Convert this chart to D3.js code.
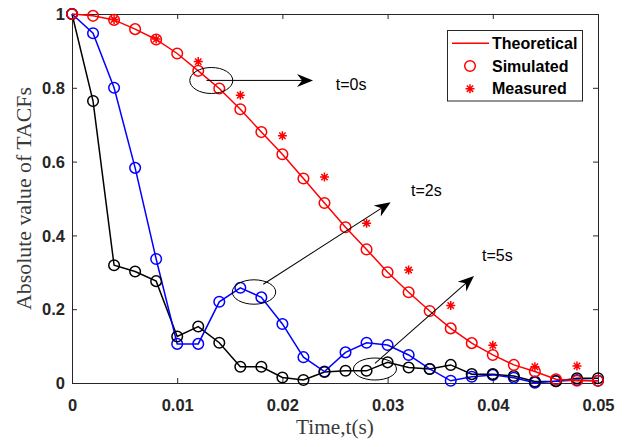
<!DOCTYPE html>
<html>
<head>
<meta charset="utf-8">
<script src="https://cdn.jsdelivr.net/npm/d3@7"></script>
<style>
body{margin:0;background:#fff;}
svg{display:block;}
</style>
</head>
<body>
<svg id="chart" width="626" height="447"></svg>
<script>
// ---------- data ----------
const timeValues = [0,0.002,0.004,0.006,0.008,0.010,0.012,0.014,0.016,0.018,0.020,0.022,0.024,0.026,0.028,0.030,0.032,0.034,0.036,0.038,0.040,0.042,0.044,0.046,0.048,0.050];
const theoretical = [1,0.995,0.984,0.959,0.931,0.893,0.846,0.798,0.742,0.680,0.620,0.554,0.488,0.422,0.362,0.300,0.246,0.195,0.148,0.108,0.076,0.049,0.031,0.010,0.006,0.006];
const simulated0s = [1,0.995,0.984,0.959,0.931,0.893,0.846,0.798,0.742,0.680,0.620,0.554,0.488,0.422,0.362,0.300,0.246,0.195,0.148,0.108,0.076,0.049,0.031,0.010,0.006,0.006];
const measuredTime = [0.004,0.008,0.012,0.016,0.020,0.024,0.028,0.032,0.036,0.040,0.044,0.048];
const measured0s = [0.985,0.932,0.871,0.780,0.670,0.558,0.433,0.306,0.210,0.102,0.044,0.046];
const simulated2s = [1,0.948,0.800,0.583,0.336,0.106,0.106,0.220,0.258,0.232,0.160,0.070,0.031,0.083,0.109,0.103,0.076,0.038,0.006,0.017,0.022,0.014,0.001,0.005,0.008,0.006];
const simulated5s = [1,0.764,0.319,0.302,0.276,0.126,0.153,0.109,0.044,0.044,0.015,0.008,0.030,0.033,0.033,0.056,0.042,0.038,0.049,0.024,0.024,0.019,0.004,0.005,0.013,0.013];
const xTickValues = [0,0.01,0.02,0.03,0.04,0.05];
const xTickLabels = ["0","0.01","0.02","0.03","0.04","0.05"];
const yTickValues = [0,0.2,0.4,0.6,0.8,1];
const yTickLabels = ["0","0.2","0.4","0.6","0.8","1"];
const legendLabels = ["Theoretical","Simulated","Measured"];
const annotationLabels = ["t=0s","t=2s","t=5s"];
// ellipse centers, arrow start/end and label anchors in data units
const ellipseCenters = [[0.01324,0.8198],[0.0173,0.2466],[0.0288,0.0379]];
const arrowStarts = [[0.01278,0.820],[0.01818,0.2675],[0.0288,0.0534]];
const arrowEnds = [[0.02291,0.820],[0.03029,0.4897],[0.03821,0.290]];
const labelAnchors = [[0.02507,0.8095],[0.03222,0.523],[0.03897,0.345]];

// ---------- layout ----------
const svg = d3.select("#chart");
const L = 72, R = 598, T = 14, B = 383;
const x = d3.scaleLinear().domain([0,0.05]).range([L,R]);
const y = d3.scaleLinear().domain([0,1]).range([B,T]);
const axisColor = "#262626";
const tickFont = '"Liberation Sans", Arial, Helvetica, sans-serif';

// axes
const gx = svg.append("g").attr("transform",`translate(0,${B})`)
  .call(d3.axisBottom(x).tickValues(xTickValues).tickFormat((d,i)=>xTickLabels[i]).tickSizeInner(-5).tickSizeOuter(0).tickPadding(16));
const gxTop = svg.append("g").attr("transform",`translate(0,${T})`)
  .call(d3.axisTop(x).tickValues(xTickValues).tickFormat("").tickSizeInner(-5).tickSizeOuter(0));
const gy = svg.append("g").attr("transform",`translate(${L},0)`)
  .call(d3.axisLeft(y).tickValues(yTickValues).tickFormat((d,i)=>yTickLabels[i]).tickSizeInner(-5).tickSizeOuter(0).tickPadding(7));
const gyR = svg.append("g").attr("transform",`translate(${R},0)`)
  .call(d3.axisRight(y).tickValues(yTickValues).tickFormat("").tickSizeInner(-5).tickSizeOuter(0));
[gx,gxTop,gy,gyR].forEach(g=>{
  g.select(".domain").attr("stroke",axisColor).attr("stroke-width",1);
  g.selectAll(".tick line").attr("stroke",axisColor).attr("stroke-width",1);
  g.selectAll(".tick text").attr("fill",axisColor).attr("font-family",tickFont)
   .attr("font-weight","bold").attr("font-size","16.5px");
});
gx.selectAll(".tick text").attr("dy","0.71em");
gy.selectAll(".tick text").attr("dy","0.34em");

// axis labels
const serif = '"Liberation Serif", "Times New Roman", serif';
const labelColor = "#3a3a3a";
const xl = svg.append("text").attr("x",(L+R)/2).attr("y",434).attr("text-anchor","middle")
  .attr("font-family",serif).attr("font-size","17px").attr("fill",labelColor).text("Time,t(s)");
xl.attr("font-size", (17*78/xl.node().getComputedTextLength())+"px");
const yl = svg.append("text").attr("transform",`translate(31,${(T+B)/2}) rotate(-90)`).attr("text-anchor","middle")
  .attr("font-family",serif).attr("font-size","17px").attr("fill",labelColor).text("Absolute value of TACFs");
yl.attr("font-size", (17*223/yl.node().getComputedTextLength())+"px");

// ---------- series ----------
const plot = svg.append("g");
const line = d3.line().x((d,i)=>x(timeValues[i])).y(d=>y(d));
function starPath(cx,cy,s){
  const a=s, b=s*0.7071;
  return `M${cx-a},${cy}L${cx+a},${cy}M${cx},${cy-a}L${cx},${cy+a}M${cx-b},${cy-b}L${cx+b},${cy+b}M${cx-b},${cy+b}L${cx+b},${cy-b}`;
}
function drawMarkers(vals,color){
  plot.append("g").selectAll("circle").data(vals).join("circle")
    .attr("cx",(d,i)=>x(timeValues[i])).attr("cy",d=>y(d)).attr("r",5.3)
    .attr("fill","none").attr("stroke",color).attr("stroke-width",1.5);
}
// black t=5s and blue t=2s
plot.append("path").attr("d",line(simulated5s)).attr("fill","none").attr("stroke","#000").attr("stroke-width",1.5);
plot.append("path").attr("d",line(simulated2s)).attr("fill","none").attr("stroke","#0000ff").attr("stroke-width",1.5);
drawMarkers(simulated2s,"#0000ff");
drawMarkers(simulated5s,"#000000");
// red theoretical + simulated + measured
plot.append("path").attr("d",line(theoretical)).attr("fill","none").attr("stroke","#ff0000").attr("stroke-width",1.5);
drawMarkers(simulated0s,"#ff0000");
plot.append("g").selectAll("path").data(measured0s).join("path")
  .attr("d",(d,i)=>starPath(x(measuredTime[i]),y(d),4.5))
  .attr("stroke","#ff0000").attr("stroke-width",1.5).attr("fill","none");

// ---------- annotations ----------
const ellR = [[21.5,13],[21.7,12.2],[21.5,11]];
const ann = svg.append("g");
ellipseCenters.forEach((c,i)=>{
  ann.append("ellipse").attr("cx",x(c[0])).attr("cy",y(c[1])).attr("rx",ellR[i][0]).attr("ry",ellR[i][1])
    .attr("fill","none").attr("stroke","#000").attr("stroke-width",1);
  const x0=x(arrowStarts[i][0]), y0=y(arrowStarts[i][1]), x1=x(arrowEnds[i][0]), y1=y(arrowEnds[i][1]);
  const ang=Math.atan2(y1-y0,x1-x0)*180/Math.PI;
  const len=Math.hypot(x1-x0,y1-y0);
  const g=ann.append("g").attr("transform",`translate(${x0},${y0}) rotate(${ang})`);
  g.append("line").attr("x1",0).attr("y1",0).attr("x2",len-8).attr("y2",0).attr("stroke","#000").attr("stroke-width",1);
  g.append("path").attr("d",`M${len},0L${len-16},-6.5L${len-11},0L${len-16},6.5Z`).attr("fill","#000");
  ann.append("text").attr("x",x(labelAnchors[i][0])).attr("y",y(labelAnchors[i][1])).attr("dy","0.35em")
    .attr("font-family",tickFont).attr("font-size","16px").attr("fill","#000").text(annotationLabels[i]);
});

// ---------- legend ----------
const lg = svg.append("g");
lg.append("rect").attr("x",447.5).attr("y",30.5).attr("width",135).attr("height",70.5)
  .attr("fill","#fff").attr("stroke",axisColor).attr("stroke-width",1);
const rowY = [43.3,66,88.7];
lg.append("line").attr("x1",452).attr("x2",489).attr("y1",rowY[0]).attr("y2",rowY[0]).attr("stroke","#ff0000").attr("stroke-width",1.5);
lg.append("circle").attr("cx",470).attr("cy",rowY[1]).attr("r",5.3).attr("fill","none").attr("stroke","#ff0000").attr("stroke-width",1.5);
lg.append("path").attr("d",starPath(470,rowY[2],4.5)).attr("stroke","#ff0000").attr("stroke-width",1.5);
legendLabels.forEach((t,i)=>{
  lg.append("text").attr("x",492).attr("y",rowY[i]).attr("dy","0.35em")
    .attr("font-family",tickFont).attr("font-weight","bold").attr("font-size","16px").attr("fill","#000").text(t);
});
</script>
</body>
</html>
